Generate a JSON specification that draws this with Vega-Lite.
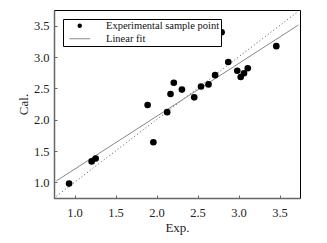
{
  "$schema": "https://vega.github.io/schema/vega-lite/v6.json",
  "width": 246,
  "height": 188,
  "padding": {"left": 17, "top": 9, "right": 5, "bottom": 5},
  "background": "white",
  "config": {
    "view": {"stroke": "black", "strokeWidth": 1},
    "font": "Liberation Serif",
    "axis": {
      "labelFont": "Liberation Serif",
      "labelFontSize": 12.5,
      "labelColor": "#222",
      "titleFont": "Liberation Serif",
      "titleFontSize": 13,
      "titleFontWeight": "normal",
      "titleColor": "#222",
      "domainColor": "#666",
      "domainWidth": 1.5,
      "tickColor": "#666",
      "tickSize": -3,
      "grid": false
    },
    "legend": {
      "title": null,
      "orient": "top-left",
      "offset": 9,
      "padding": 1.5,
      "strokeColor": "black",
      "fillColor": "white",
      "labelFont": "Liberation Serif",
      "labelFontSize": 10.5,
      "labelColor": "#111",
      "symbolSize": 20,
      "symbolOffset": 10,
      "labelOffset": 21,
      "rowPadding": 2
    }
  },
  "datasets": {
    "pts": [
      {"exp": 0.934, "cal": 0.98, "series": "Experimental sample point"},
      {"exp": 1.209, "cal": 1.334, "series": "Experimental sample point"},
      {"exp": 1.258, "cal": 1.38, "series": "Experimental sample point"},
      {"exp": 1.892, "cal": 2.234, "series": "Experimental sample point"},
      {"exp": 1.962, "cal": 1.64, "series": "Experimental sample point"},
      {"exp": 2.13, "cal": 2.12, "series": "Experimental sample point"},
      {"exp": 2.171, "cal": 2.41, "series": "Experimental sample point"},
      {"exp": 2.211, "cal": 2.59, "series": "Experimental sample point"},
      {"exp": 2.31, "cal": 2.48, "series": "Experimental sample point"},
      {"exp": 2.46, "cal": 2.356, "series": "Experimental sample point"},
      {"exp": 2.543, "cal": 2.53, "series": "Experimental sample point"},
      {"exp": 2.634, "cal": 2.563, "series": "Experimental sample point"},
      {"exp": 2.715, "cal": 2.71, "series": "Experimental sample point"},
      {"exp": 2.794, "cal": 3.395, "series": "Experimental sample point"},
      {"exp": 2.875, "cal": 2.92, "series": "Experimental sample point"},
      {"exp": 2.985, "cal": 2.78, "series": "Experimental sample point"},
      {"exp": 3.027, "cal": 2.68, "series": "Experimental sample point"},
      {"exp": 3.067, "cal": 2.74, "series": "Experimental sample point"},
      {"exp": 3.113, "cal": 2.82, "series": "Experimental sample point"},
      {"exp": 3.461, "cal": 3.173, "series": "Experimental sample point"}
    ],
    "diag": [
      {"exp": 0.78, "cal": 0.78},
      {"exp": 3.72, "cal": 3.72}
    ],
    "fit": [
      {"exp": 0.78, "cal": 1.024},
      {"exp": 3.73, "cal": 3.51}
    ]
  },
  "layer": [
    {
      "data": {"name": "diag"},
      "mark": {"type": "line", "color": "#555", "strokeWidth": 1, "strokeDash": [1, 2.5]},
      "encoding": {
        "x": {"field": "exp", "type": "quantitative", "scale": {"domain": [0.75, 3.75], "nice": false, "zero": false},
              "axis": {"title": "Exp.", "values": [1.0, 1.5, 2.0, 2.5, 3.0, 3.5], "tickCount": 12, "format": ".1f", "labelOverlap": false, "labelPadding": 11, "titlePadding": 3}},
        "y": {"field": "cal", "type": "quantitative", "scale": {"domain": [0.75, 3.75], "nice": false, "zero": false},
              "axis": {"title": "Cal.", "values": [1.0, 1.5, 2.0, 2.5, 3.0, 3.5], "tickCount": 12, "format": ".1f", "labelOverlap": false, "labelPadding": 8, "titlePadding": 3}}
      }
    },
    {
      "data": {"name": "fit"},
      "mark": {"type": "line", "color": "#888", "strokeWidth": 1},
      "encoding": {
        "x": {"field": "exp", "type": "quantitative"},
        "y": {"field": "cal", "type": "quantitative"}
      }
    },
    {
      "data": {"name": "pts"},
      "mark": {"type": "point", "filled": true, "opacity": 1, "size": 44},
      "encoding": {
        "x": {"field": "exp", "type": "quantitative"},
        "y": {"field": "cal", "type": "quantitative"},
        "color": {
          "field": "series", "type": "nominal",
          "scale": {"domain": ["Experimental sample point", "Linear fit"], "range": ["black", "#888"]}
        },
        "shape": {
          "field": "series", "type": "nominal",
          "scale": {"domain": ["Experimental sample point", "Linear fit"], "range": ["circle", "M-4.7,-0.22H4.7V0.22H-4.7Z"]}
        }
      }
    }
  ]
}
